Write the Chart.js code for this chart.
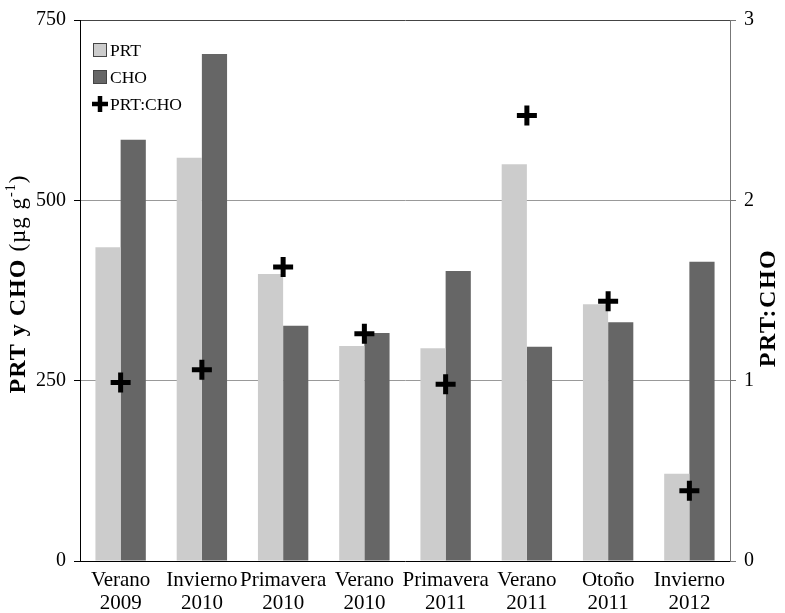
<!DOCTYPE html>
<html>
<head>
<meta charset="utf-8">
<script src="https://cdn.jsdelivr.net/npm/chart.js@4.4.0/dist/chart.umd.min.js"></script>
<style>
  html, body { margin: 0; padding: 0; background: #fff; }
  #wrap { width: 785px; height: 613px; }
</style>
</head>
<body>
<div id="wrap"><canvas id="chart" width="785" height="613"></canvas></div>
<script>
// data
const seasons = [
  ['Verano', '2009'], ['Invierno', '2010'], ['Primavera', '2010'], ['Verano', '2010'],
  ['Primavera', '2011'], ['Verano', '2011'], ['Otoño', '2011'], ['Invierno', '2012']
];
const prt = [435, 559, 398, 298, 295, 550, 356, 121];
const cho = [584, 703, 326, 316, 402, 297, 331, 415];
const ratio = [0.99, 1.06, 1.63, 1.26, 0.98, 2.47, 1.44, 0.39];

const serif = "'Liberation Serif', 'DejaVu Serif', serif";
Chart.defaults.font.family = serif;
Chart.defaults.color = '#000';

// axis titles + legend drawn by hand (mixed bold / superscript)
const extras = {
  id: 'extras',
  afterDraw(chart) {
    const ctx = chart.ctx;
    ctx.save();
    // left title
    ctx.translate(19, 284);
    ctx.rotate(-Math.PI / 2);
    ctx.textBaseline = 'middle';
    ctx.letterSpacing = '1px';
    const boldF = 'bold 24px ' + serif, normF = '23px ' + serif, supF = '14px ' + serif;
    const p1 = 'PRT y CHO ', p2 = '(µg g', p3 = '-1', p4 = ')';
    ctx.font = boldF; const w1 = ctx.measureText(p1).width;
    ctx.font = normF; const w2 = ctx.measureText(p2).width, w4 = ctx.measureText(p4).width;
    ctx.font = supF; const w3 = ctx.measureText(p3).width;
    let x = -(w1 + w2 + w3 + w4) / 2;
    ctx.textAlign = 'left';
    ctx.font = boldF; ctx.fillText(p1, x, 0); x += w1;
    ctx.font = normF; ctx.fillText(p2, x, 0); x += w2;
    ctx.font = supF; ctx.fillText(p3, x, -8); x += w3;
    ctx.font = normF; ctx.fillText(p4, x, 0);
    ctx.restore();

    // right title
    ctx.save();
    ctx.translate(769, 308);
    ctx.rotate(-Math.PI / 2);
    ctx.textAlign = 'center';
    ctx.textBaseline = 'middle';
    ctx.letterSpacing = '1.5px';
    ctx.font = 'bold 24px ' + serif;
    ctx.fillText('PRT:CHO', 0, 0);
    ctx.restore();

    // legend
    ctx.save();
    ctx.font = '17.5px ' + serif;
    ctx.textBaseline = 'middle';
    ctx.textAlign = 'left';
    const lx = 93;
    const items = [
      { y: 50, label: 'PRT', fill: '#cccccc' },
      { y: 77, label: 'CHO', fill: '#666666' }
    ];
    items.forEach(it => {
      ctx.fillStyle = it.fill;
      ctx.fillRect(lx, it.y - 7, 14, 14);
      ctx.strokeStyle = '#444';
      ctx.lineWidth = 1;
      ctx.strokeRect(lx + 0.5, it.y - 6.5, 13, 13);
      ctx.fillStyle = '#000';
      ctx.fillText(it.label, lx + 17, it.y + 1);
    });
    const cy = 104;
    ctx.strokeStyle = '#000';
    ctx.lineWidth = 4.5;
    ctx.beginPath();
    ctx.moveTo(lx - 1, cy); ctx.lineTo(lx + 15, cy);
    ctx.moveTo(lx + 7, cy - 8); ctx.lineTo(lx + 7, cy + 8);
    ctx.stroke();
    ctx.fillStyle = '#000';
    ctx.fillText('PRT:CHO', lx + 17, cy + 1);
    ctx.restore();
  }
};

new Chart(document.getElementById('chart'), {
  data: {
    labels: seasons,
    datasets: [
      {
        type: 'line', label: 'PRT:CHO', data: ratio, yAxisID: 'y1',
        showLine: false, pointStyle: 'cross', pointRadius: 10, pointBorderWidth: 5,
        borderColor: '#000', backgroundColor: '#000', order: 0
      },
      {
        type: 'bar', label: 'PRT', data: prt, yAxisID: 'y',
        backgroundColor: '#cccccc', barPercentage: 1, categoryPercentage: 0.62, order: 1
      },
      {
        type: 'bar', label: 'CHO', data: cho, yAxisID: 'y',
        backgroundColor: '#666666', barPercentage: 1, categoryPercentage: 0.62, order: 1
      }
    ]
  },
  options: {
    responsive: false,
    animation: false,
    layout: { padding: { top: 20, right: 0, left: 0, bottom: 0 } },
    plugins: { legend: { display: false }, tooltip: { enabled: false } },
    scales: {
      x: {
        grid: { display: false, drawTicks: false },
        border: { color: '#000', width: 1 },
        ticks: { font: { size: 21, lineHeight: 1.08 }, padding: 8, maxRotation: 0, minRotation: 0, autoSkip: false },
        afterFit(s) { s.height = 52; }
      },
      y: {
        position: 'left', min: 0, max: 750,
        ticks: { stepSize: 250, font: { size: 20 }, padding: 8 },
        grid: {
          color: c => (c.tick.value === 750 ? '#444' : c.tick.value === 0 ? 'rgba(0,0,0,0)' : '#999'),
          tickColor: '#000', tickLength: 6, lineWidth: 1
        },
        border: { color: '#000', width: 1 },
        afterFit(s) { s.width = 80; }
      },
      y1: {
        position: 'right', min: 0, max: 3,
        ticks: { stepSize: 1, font: { size: 20 }, padding: 8 },
        grid: { drawOnChartArea: false, tickColor: '#777', tickLength: 6 },
        border: { color: '#777', width: 1 },
        afterFit(s) { s.width = 55; }
      }
    }
  },
  plugins: [extras]
});
</script>
</body>
</html>
